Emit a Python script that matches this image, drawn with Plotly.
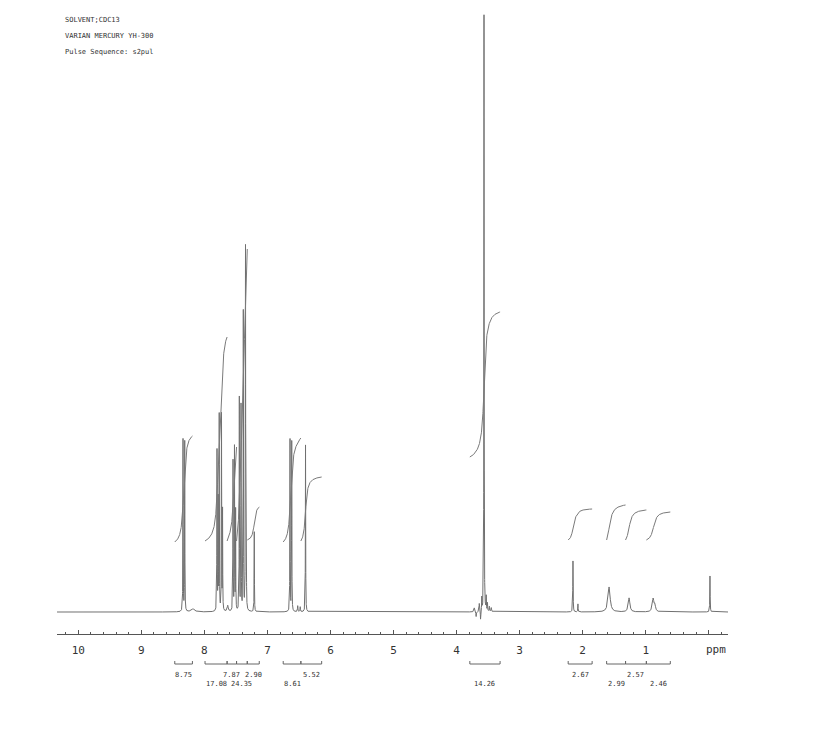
import numpy as np
import plotly.graph_objects as go

# ---------------- data ----------------
# spectrum lines: chemical shift (ppm), peak height (arb.), half width (ppm)
peak_ppm = [8.339, 8.312, 8.180,
            7.800, 7.782, 7.765, 7.729, 7.712, 7.630,
            7.546, 7.523, 7.505,
            7.446, 7.419, 7.383, 7.348, 7.336,
            7.209,
            6.642, 6.615, 6.520, 6.480, 6.396,
            3.720, 3.690, 3.640, 3.620, 3.600, 3.565, 3.530, 3.510, 3.480, 3.450,
            2.154, 2.075,
            1.581, 1.264, 0.883, 0.855,
            -0.019]
peak_height = [172, 170, 3,
               160, 110, 195, 196, 100, 6,
               150, 163, 100,
               213, 205, 299, 362, 85,
               80,
               172, 170, 6, 5, 167,
               4, -5, 8, -9, 13, 597, 14, 8, 5, 4,
               51, 8,
               25, 14, 13, 6,
               36]
peak_hwhm = [0.0025, 0.0025, 0.03,
             0.0025, 0.0025, 0.0025, 0.0025, 0.0025, 0.01,
             0.0025, 0.0025, 0.0025,
             0.0025, 0.0025, 0.0025, 0.0025, 0.0025,
             0.0025,
             0.0025, 0.0025, 0.004, 0.004, 0.0025,
             0.006, 0.004, 0.004, 0.003, 0.003, 0.0025, 0.003, 0.003, 0.004, 0.005,
             0.003, 0.003,
             0.02, 0.015, 0.015, 0.012,
             0.003]

# integration regions (ppm from, ppm to), curve start / end level, printed value
integ_from = [8.47, 7.99, 7.64, 7.49, 7.32, 6.75, 6.47, 3.79, 2.23, 1.62, 1.32, 0.99]
integ_to = [8.19, 7.64, 7.49, 7.32, 7.13, 6.47, 6.14, 3.31, 1.85, 1.32, 0.99, 0.61]
integ_start = [70, 71, 71, 71, 72, 70, 71, 155, 72, 72, 72, 72]
integ_end = [176, 275, 165, 363, 105, 174, 135, 300, 103, 107, 102, 100]
integ_label = ["8.75", "17.08", "7.87", "24.35", "2.90", "8.61", "5.52",
               "14.26", "2.67", "2.99", "2.57", "2.46"]

tick_vals = [10, 9, 8, 7, 6, 5, 4, 3, 2, 1]
tick_text = ["10", "9", "8", "7", "6", "5", "4", "3", "2", "1"]

header_lines = ["SOLVENT;CDC13", "VARIAN MERCURY YH-300", "Pulse Sequence: s2pul"]

# ---------------- build spectrum ----------------
X_LEFT, X_RIGHT = 10.338, -0.305
x = np.arange(X_RIGHT, X_LEFT, 0.0005)
x = np.sort(np.concatenate([x, np.array(peak_ppm)]))
y = np.zeros_like(x)
for p, h, w in zip(peak_ppm, peak_height, peak_hwhm):
    y += h * w * w / ((x - p) ** 2 + w * w)

LINE = "#707070"
fig = go.Figure()
fig.add_trace(go.Scatter(x=x, y=y, mode="lines",
                         line=dict(color=LINE, width=1), hoverinfo="skip"))

# ---------------- integral curves ----------------
for hi, lo, s, e in zip(integ_from, integ_to, integ_start, integ_end):
    xi = np.linspace(hi, lo, 300)
    F = np.zeros_like(xi)
    for p, h, w in zip(peak_ppm, peak_height, peak_hwhm):
        if lo <= p <= hi and h > 0:
            g = w + 0.022
            F += h * w * (0.5 + np.arctan((p - xi) / g) / np.pi)
    F = (F - F[0]) / (F[-1] - F[0])
    fig.add_trace(go.Scatter(x=xi, y=s + (e - s) * F, mode="lines",
                             line=dict(color="#7a7a7a", width=1), hoverinfo="skip"))

# ---------------- layout geometry ----------------
# page body has an 8 px margin; target screen coords: plot x 57..728, y 13..634
OFF = 8
W, H = 823, 741
L = 57 - OFF
T = 13 - OFF
R = W - (728 - OFF)
B = H - (634 - OFF)
PH = H - T - B
PW = W - L - R


def py(Y):  # screen pixel row -> paper y
    return (634 - Y) / PH


shapes = []
annotations = []
TXT = "#333333"
for i, (hi, lo, lab) in enumerate(zip(integ_from, integ_to, integ_label)):
    shapes.append(dict(type="line", xref="x", yref="paper", x0=hi, x1=lo,
                       y0=py(664), y1=py(664), line=dict(color="#666", width=1)))
    for xx in (hi, lo):
        shapes.append(dict(type="line", xref="x", yref="paper", x0=xx, x1=xx,
                           y0=py(664), y1=py(661), line=dict(color="#666", width=1)))
    row_Y = 675 if i % 2 == 0 else 684
    annotations.append(dict(x=(hi + lo) / 2, y=py(row_Y), xref="x", yref="paper",
                            text=lab, showarrow=False, xanchor="center", yanchor="middle",
                            font=dict(family="DejaVu Sans Mono", size=7, color=TXT)))

for k, t in enumerate(header_lines):
    annotations.append(dict(x=(63 - 57) / PW, y=py(20 + 16 * k), xref="paper", yref="paper",
                            text=t, showarrow=False, xanchor="left", yanchor="middle",
                            font=dict(family="DejaVu Sans Mono", size=7, color=TXT)))

annotations.append(dict(x=-0.11, y=py(650), xref="x", yref="paper", text="ppm",
                        showarrow=False, xanchor="center", yanchor="middle",
                        font=dict(family="DejaVu Sans Mono", size=11, color=TXT)))

fig.update_layout(
    width=W, height=H,
    margin=dict(l=L, r=R, t=T, b=B),
    paper_bgcolor="white", plot_bgcolor="white",
    showlegend=False,
    shapes=shapes, annotations=annotations,
    xaxis=dict(range=[X_LEFT, X_RIGHT], showgrid=False, zeroline=False,
               showline=True, linecolor="#555", linewidth=1,
               tickmode="array", tickvals=tick_vals + [0], ticktext=tick_text + [""],
               ticks="inside", ticklen=4, tickcolor="#555", tickwidth=1,
               ticklabelstandoff=6,
               tickfont=dict(family="DejaVu Sans Mono", size=11, color=TXT),
               minor=dict(dtick=0.2, tick0=0, ticks="inside", ticklen=2,
                          tickcolor="#555", tickwidth=1)),
    yaxis=dict(range=[-22, 599], visible=False, fixedrange=True),
)

fig.write_html("out.html")
